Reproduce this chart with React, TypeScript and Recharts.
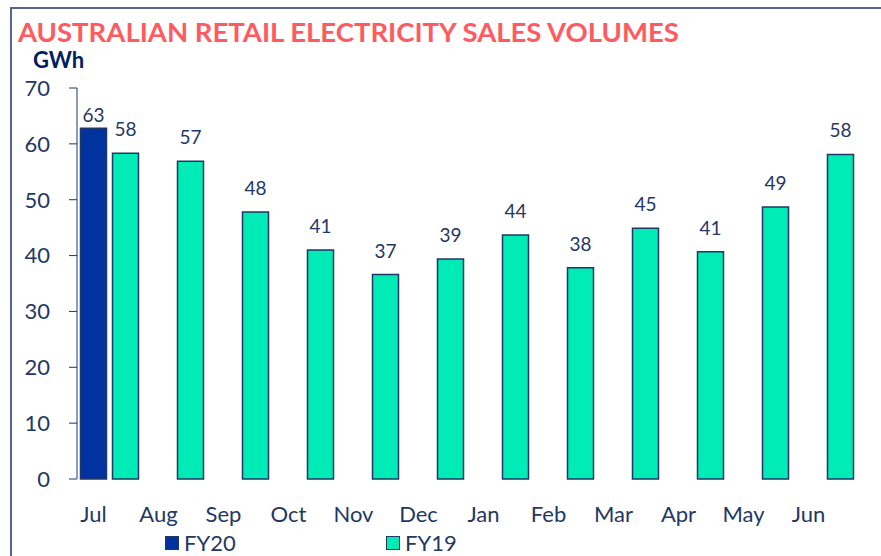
import React from "react";
import { BarChart, Bar, XAxis, YAxis, Legend, LabelList } from "recharts";

const months = ["Jul", "Aug", "Sep", "Oct", "Nov", "Dec", "Jan", "Feb", "Mar", "Apr", "May", "Jun"];
const fy20 = [62.8, null, null, null, null, null, null, null, null, null, null, null];
const fy19 = [58.3, 56.9, 47.8, 41.0, 36.6, 39.4, 43.7, 37.8, 44.9, 40.7, 48.7, 58.1];
const yTicks = [0, 10, 20, 30, 40, 50, 60, 70];

const NAVY = "#1f3864";
const FY20_COLOR = "#0033a0";
const FY19_COLOR = "#00ebb6";

const data = months.map((m, i) => ({ month: m, FY20: fy20[i], FY19: fy19[i] }));

const fmt = (v: any) => (v == null ? "" : Math.round(Number(v)));

// legend wrapper already sits at margin.left (17px)
function LegendBox() {
  const item = (left: number, color: string, label: string) => (
    <div style={{ position: "absolute", left, top: 0, display: "flex", alignItems: "center" }}>
      <span style={{ width: 12, height: 12, background: color, border: `1px solid ${NAVY}`, display: "inline-block" }} />
      <span style={{ marginLeft: 5, fontSize: 22, color: NAVY }}>{label}</span>
    </div>
  );
  return (
    <div style={{ position: "relative", width: 840, height: 26 }}>
      {item(148, FY20_COLOR, "FY20")}
      {item(369, FY19_COLOR, "FY19")}
    </div>
  );
}

export default function App(): React.JSX.Element {
  return (
    <div style={{ position: "fixed", left: 0, top: 0, width: 881, height: 556, overflow: "hidden", background: "#fff", fontFamily: "Lato" }}>
      <div style={{ position: "absolute", left: 10, top: 7, width: 900, height: 600, borderLeft: "2px solid #56678f", borderTop: "2px solid #56678f" }} />
      <div style={{ position: "absolute", left: 18, top: 18, fontSize: 27.5, lineHeight: 1, fontWeight: 700, color: "#ff5a5f", whiteSpace: "nowrap" }}>
        AUSTRALIAN RETAIL ELECTRICITY SALES VOLUMES
      </div>
      <div style={{ position: "absolute", left: 33, top: 46, fontSize: 22, fontWeight: 700, color: "#002060" }}>GWh</div>
      <div style={{ position: "absolute", left: 0, top: 0 }}>
        <BarChart width={881} height={556} data={data} margin={{ top: 88, right: 24, bottom: 1, left: 17 }} barGap={6} barCategoryGap={3.5}>
          <XAxis dataKey="month" axisLine={false} tickLine={false} tickMargin={21} height={50}
            tick={{ fill: NAVY, fontSize: 22, dx: -16 }} interval={0} />
          <YAxis domain={[0, 70]} ticks={yTicks} width={60} tickSize={8} tickMargin={19}
            axisLine={{ stroke: NAVY }} tickLine={{ stroke: NAVY }} tick={{ fill: NAVY, fontSize: 22 }} />
          <Legend verticalAlign="bottom" content={() => <LegendBox />} />
          <Bar dataKey="FY20" fill={FY20_COLOR} stroke={NAVY} strokeWidth={1.5} isAnimationActive={false}>
            <LabelList dataKey="FY20" position="top" offset={6} formatter={fmt} style={{ fill: NAVY, fontSize: 19 }} />
          </Bar>
          <Bar dataKey="FY19" fill={FY19_COLOR} stroke={NAVY} strokeWidth={1.5} isAnimationActive={false}>
            <LabelList dataKey="FY19" position="top" offset={17} formatter={fmt} style={{ fill: NAVY, fontSize: 19 }} />
          </Bar>
        </BarChart>
      </div>
    </div>
  );
}
